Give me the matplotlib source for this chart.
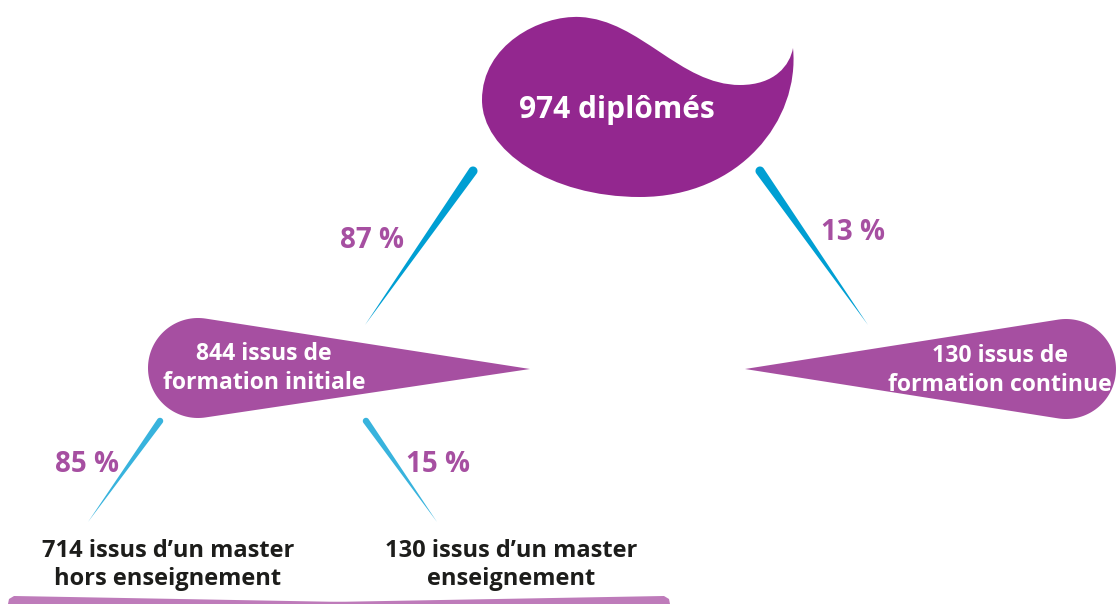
import matplotlib.pyplot as plt
import numpy as np
from matplotlib.path import Path
from matplotlib.patches import PathPatch, Polygon

# data
total = 974
level1_counts = [844, 130]
level1_pct = [87, 13]
level1_labels = ["issus de", "formation initiale", "issus de", "formation continue"]
level2_counts = [714, 130]
level2_pct = [85, 15]
level2_labels = ["issus d\u2019un master", "hors enseignement", "issus d\u2019un master", "enseignement"]

purple_dark = '#93278F'
purple = '#A64FA1'
purple_light = '#BE7BBA'
blue = '#009FD3'
blue_light = '#38B3DD'
text_dark = '#1D1D1B'

plt.rcParams['font.family'] = ['Open Sans', 'DejaVu Sans']


def teardrop(center, r, tip, n=80):
    # circle + tangent lines to a tip point
    c = np.array(center, float)
    t = np.array(tip, float)
    d = t - c
    dist = np.hypot(*d)
    ang = np.arctan2(d[1], d[0])
    half = np.arccos(r / dist)
    a = np.linspace(ang + half, ang + 2 * np.pi - half, n)
    pts = np.column_stack([c[0] + r * np.cos(a), c[1] + r * np.sin(a)])
    return np.vstack([pts, t])


fig = plt.figure(figsize=(11.16, 6.04), dpi=100)
ax = fig.add_axes([0, 0, 1, 1])
ax.set_xlim(0, 1116)
ax.set_ylim(604, 0)
ax.axis('off')

# top blob
verts = [(482, 100),
         (482, 45), (540, 15), (580, 17),
         (640, 20), (680, 85), (740, 85),
         (775, 85), (790, 65), (793, 48),
         (800, 120), (740, 197), (640, 197),
         (550, 197), (482, 150), (482, 100)]
codes = [Path.MOVETO] + [Path.CURVE4] * 15
ax.add_patch(PathPatch(Path(verts, codes), fc=purple_dark, ec='none'))
ax.text(617, 118, f"{total} diplômés", color='white', fontsize=21.5,
        fontweight='bold', ha='center', va='baseline')

# second level shapes
ax.add_patch(Polygon(teardrop((198, 368), 50, (530, 369)), fc=purple, ec='none'))
ax.add_patch(Polygon(teardrop((1066, 369), 50, (745, 369)), fc=purple, ec='none'))

# bottom band (cut off)
ax.add_patch(Polygon([(8, 604), (9, 599), (14, 596), (345, 602), (345, 604)],
                     fc=purple_light, ec='none'))
ax.add_patch(Polygon([(330, 604), (330, 602), (664, 596), (669, 599), (670, 604)],
                     fc=purple_light, ec='none'))

# branches
strokes = [((473, 171), 4.5, (365, 325), blue),
           ((760, 171), 4.5, (868, 325), blue),
           ((160, 421), 3.2, (88, 522), blue_light),
           ((366, 421), 3.2, (437, 522), blue_light)]
for start, w, tip, col in strokes:
    ax.add_patch(Polygon(teardrop(start, w, tip, 30), fc=col, ec='none'))

# percentages
pct_pos = [(372, 248), (853, 240), (87, 472), (438, 472)]
for (x, y), p in zip(pct_pos, level1_pct + level2_pct):
    ax.text(x, y, f"{p} %", color=purple, fontsize=20, fontweight='bold',
            ha='center', va='baseline')

# node labels
lvl1_pos = [(264, 360), (1000, 362)]
for i, (x, y) in enumerate(lvl1_pos):
    ax.text(x, y, f"{level1_counts[i]} {level1_labels[2 * i]}", color='white',
            fontsize=16.6, fontweight='bold', ha='center', va='baseline')
    ax.text(x, y + 29, level1_labels[2 * i + 1], color='white',
            fontsize=16.6, fontweight='bold', ha='center', va='baseline')

lvl2_pos = [(168, 557), (511, 557)]
for i, (x, y) in enumerate(lvl2_pos):
    ax.text(x, y, f"{level2_counts[i]} {level2_labels[2 * i]}", color=text_dark,
            fontsize=17, fontweight='bold', ha='center', va='baseline')
    ax.text(x, y + 28, level2_labels[2 * i + 1], color=text_dark,
            fontsize=17, fontweight='bold', ha='center', va='baseline')

fig.savefig('out.png', dpi=100)
